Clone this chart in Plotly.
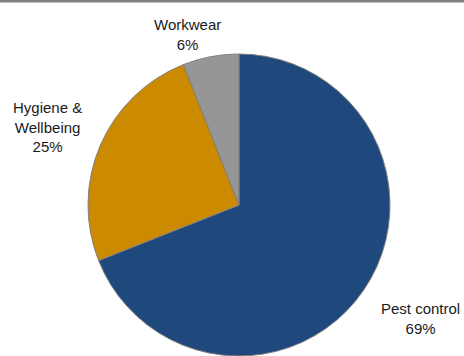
import plotly.graph_objects as go

# Revenue split by business segment
segments = ["Pest control", "Hygiene &<br>Wellbeing", "Workwear"]
shares = [69, 25, 6]
colors = ["#1F497D", "#CC8A00", "#969696"]

# Label block centres in pixels (x from left, y from top)
label_px = [(420, 318), (47, 127), (187, 34)]

W, H = 464, 356

fig = go.Figure(
    go.Pie(
        labels=segments,
        values=shares,
        sort=False,
        direction="clockwise",
        rotation=0,
        marker=dict(colors=colors, line=dict(color="#7f7f7f", width=1)),
        textinfo="none",
        hoverinfo="label+percent",
        showlegend=False,
        domain=dict(x=[88 / W, 390 / W], y=[0, 302 / H]),
    )
)

annotations = []
for name, val, (px, py) in zip(segments, shares, label_px):
    annotations.append(
        dict(
            text=f"{name}<br>{val}%",
            x=px / W,
            y=1 - py / H,
            xref="paper",
            yref="paper",
            xanchor="center",
            yanchor="middle",
            showarrow=False,
            align="center",
            font=dict(family="Liberation Sans, Arial, sans-serif", size=15, color="#1a1a1a"),
        )
    )

fig.update_layout(
    width=W,
    height=H,
    margin=dict(l=0, r=0, t=0, b=0),
    paper_bgcolor="white",
    plot_bgcolor="white",
    annotations=annotations,
    shapes=[
        dict(
            type="rect",
            xref="paper",
            yref="paper",
            x0=0,
            x1=1,
            y0=1 - 2.5 / H,
            y1=1,
            fillcolor="#7f7f7f",
            line=dict(width=0),
            layer="above",
        )
    ],
)

fig.write_html("out.html")
